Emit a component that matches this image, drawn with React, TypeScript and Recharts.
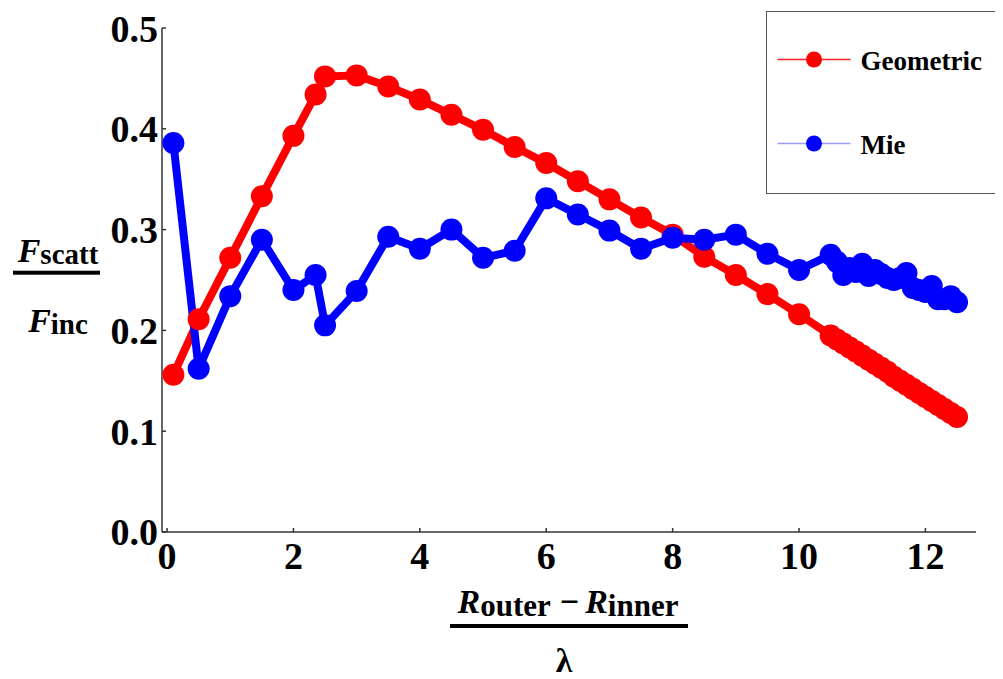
import React from 'react';
import { LineChart, Line, XAxis, YAxis, Label } from 'recharts';

// Shell thickness in units of wavelength
const xValues = [
  0.1, 0.5, 1, 1.5, 2, 2.35, 2.5, 3, 3.5, 4, 4.5, 5, 5.5, 6, 6.5, 7, 7.5, 8, 8.5, 9, 9.5, 10,
  10.5, 10.6, 10.7, 10.8, 10.9, 11, 11.1, 11.2, 11.3, 11.4, 11.5, 11.6, 11.7, 11.8, 11.9, 12,
  12.1, 12.2, 12.3, 12.4, 12.5,
];

// Scattered / incident flux, geometric-optics model
const geometric = [
  0.156, 0.211, 0.272, 0.333, 0.393, 0.434, 0.452, 0.453, 0.442, 0.429, 0.414, 0.399, 0.382,
  0.366, 0.348, 0.330, 0.312, 0.295, 0.273, 0.255, 0.236, 0.216,
  0.195, 0.191, 0.187, 0.183, 0.179, 0.175, 0.171, 0.167, 0.163, 0.159, 0.154, 0.150, 0.146,
  0.142, 0.138, 0.134, 0.130, 0.126, 0.122, 0.118, 0.114,
];

// Scattered / incident flux, Mie calculation
const mie = [
  0.386, 0.162, 0.234, 0.290, 0.240, 0.255, 0.205, 0.239, 0.293, 0.281, 0.300, 0.272, 0.279,
  0.331, 0.315, 0.299, 0.281, 0.292, 0.290, 0.295, 0.276, 0.260,
  0.275, 0.268, 0.255, 0.262, 0.258, 0.266, 0.254, 0.260, 0.256, 0.252, 0.250, 0.252, 0.257,
  0.242, 0.240, 0.238, 0.244, 0.231, 0.231, 0.234, 0.228,
];

const xTicks = [0, 2, 4, 6, 8, 10, 12];
const yTicks = [0, 0.1, 0.2, 0.3, 0.4, 0.5];

const seriesInfo = [
  { key: 'geometric', name: 'Geometric', color: '#ff0000', legendLine: '#ff2020' },
  { key: 'mie', name: 'Mie', color: '#0000ff', legendLine: '#9c9cff' },
];

const data = xValues.map((x, i) => ({ x, geometric: geometric[i], mie: mie[i] }));

const FONT = "'Liberation Serif', 'DejaVu Serif', serif";
const AXIS_COLOR = '#333333';
const TICK_FONT = 38;
const X_TICK_GAP = 10;
const Y_TICK_GAP = 4;
const TICK_LEN = 4;

const XTick = (props: any) => {
  const { x, y, payload } = props;
  const axisY = y - X_TICK_GAP;
  return (
    <g>
      <line x1={x} x2={x} y1={axisY} y2={axisY - TICK_LEN} stroke={AXIS_COLOR} strokeWidth={1.5} />
      <text
        x={x}
        y={y}
        dy="0.71em"
        textAnchor="middle"
        fontFamily={FONT}
        fontWeight="bold"
        fontSize={TICK_FONT}
        fill="#000"
      >
        {payload.value}
      </text>
    </g>
  );
};

const YTick = (props: any) => {
  const { x, y, payload } = props;
  const axisX = x + Y_TICK_GAP;
  return (
    <g>
      <line x1={axisX} x2={axisX + TICK_LEN} y1={y} y2={y} stroke={AXIS_COLOR} strokeWidth={1.5} />
      <text
        x={x}
        y={y}
        dy="0.355em"
        textAnchor="end"
        fontFamily={FONT}
        fontWeight="bold"
        fontSize={TICK_FONT}
        fill="#000"
      >
        {Number(payload.value).toFixed(1)}
      </text>
    </g>
  );
};

// Main symbol (bold italic) and subscript (bold upright) pieces of the axis titles
const Sym = ({ children, ...rest }: any) => (
  <tspan fontFamily={FONT} fontWeight="bold" fontStyle="italic" fontSize={34} {...rest}>
    {children}
  </tspan>
);
const Sub = ({ children, size = 31, ...rest }: any) => (
  <tspan fontFamily={FONT} fontWeight="bold" fontStyle="normal" fontSize={size} {...rest}>
    {children}
  </tspan>
);

// (R_outer - R_inner) / lambda
const XAxisTitle = (props: any) => {
  const vb = props.viewBox;
  const cx = vb.x + vb.width / 2;
  const top = vb.y;
  return (
    <g>
      <text x={cx - 1} y={top + 81} textAnchor="middle" fontFamily={FONT} fontWeight="bold" fontSize={34} fill="#000">
        <Sym>R</Sym>
        <Sub dy={3}>outer</Sub>
        <tspan fontFamily={FONT} fontWeight="bold" fontSize={34} dy={-3} dx={9}>−</tspan>
        <Sym dx={6}>R</Sym>
        <Sub dy={3}>inner</Sub>
      </text>
      <rect x={cx - 119} y={top + 92} width={238} height={4} fill="#000" />
      <text x={cx - 5} y={top + 140} textAnchor="middle" fontFamily={FONT} fontWeight="bold" fontSize={34} fill="#000">
        λ
      </text>
    </g>
  );
};

// F_scatt / F_inc
const YAxisTitle = (props: any) => {
  const vb = props.viewBox;
  const cy = vb.y + vb.height / 2;
  const cx = 50;
  return (
    <g>
      <text x={cx} y={cy - 18} textAnchor="middle" fontFamily={FONT} fontWeight="bold" fontSize={34} fill="#000">
        <Sym>F</Sym>
        <Sub size={29} dy={2}>scatt</Sub>
      </text>
      <rect x={cx - 45} y={cy - 9.3} width={87} height={4} fill="#000" />
      <text x={cx} y={cy + 52} textAnchor="middle" fontFamily={FONT} fontWeight="bold" fontSize={34} fill="#000">
        <Sym>F</Sym>
        <Sub size={29} dy={2}>inc</Sub>
      </text>
    </g>
  );
};

const LegendBox = () => (
  <div
    style={{
      position: 'absolute',
      left: 757.5,
      top: 2.5,
      width: 236,
      height: 183,
      border: '1.5px solid #555',
      background: '#fff',
      boxSizing: 'border-box',
    }}
  >
    <svg width={236} height={183} style={{ position: 'absolute', left: -1.5, top: -1.5 }}>
      {seriesInfo.map((s, i) => {
        const yy = 49.5 + i * 84;
        return (
          <g key={s.key}>
            <line x1={12.5} x2={85.5} y1={yy} y2={yy} stroke={s.legendLine} strokeWidth={1.5} />
            <circle cx={49} cy={yy} r={8} fill={s.color} />
            <text x={95.5} y={yy + 10} fontFamily={FONT} fontWeight="bold" fontSize={27} fill="#000">
              {s.name}
            </text>
          </g>
        );
      })}
    </svg>
  </div>
);

export default function App() {
  return (
    <div style={{ position: 'relative', width: 995, height: 671, background: '#fff' }}>
      <LineChart
        width={995}
        height={671}
        data={data}
        margin={{ top: 20, right: 27, bottom: 0, left: 0 }}
      >
        <XAxis
          type="number"
          dataKey="x"
          domain={[-0.08, 12.8]}
          ticks={xTicks}
          allowDataOverflow
          interval={0}
          height={147}
          axisLine={{ stroke: AXIS_COLOR, strokeWidth: 1.5 }}
          tickLine={false}
          tickSize={0}
          tickMargin={X_TICK_GAP}
          tick={<XTick />}
        >
          <Label content={<XAxisTitle />} />
        </XAxis>
        <YAxis
          type="number"
          domain={[0, 0.5]}
          ticks={yTicks}
          allowDataOverflow
          interval={0}
          width={154}
          axisLine={{ stroke: AXIS_COLOR, strokeWidth: 1.5 }}
          tickLine={false}
          tickSize={0}
          tickMargin={Y_TICK_GAP}
          tick={<YTick />}
        >
          <Label content={<YAxisTitle />} />
        </YAxis>
        {seriesInfo.map((s) => (
          <Line
            key={s.key + '-line'}
            type="linear"
            dataKey={s.key}
            name={s.name}
            stroke={s.color}
            strokeWidth={8}
            strokeLinejoin="round"
            strokeLinecap="round"
            dot={false}
            activeDot={false}
            isAnimationActive={false}
          />
        ))}
        {seriesInfo.map((s) => (
          <Line
            key={s.key + '-marks'}
            type="linear"
            dataKey={s.key}
            name={s.name + ' markers'}
            stroke="none"
            legendType="none"
            dot={{ r: 11, fill: s.color, stroke: 'none', strokeWidth: 0 }}
            activeDot={false}
            isAnimationActive={false}
          />
        ))}
      </LineChart>
      <LegendBox />
    </div>
  );
}
